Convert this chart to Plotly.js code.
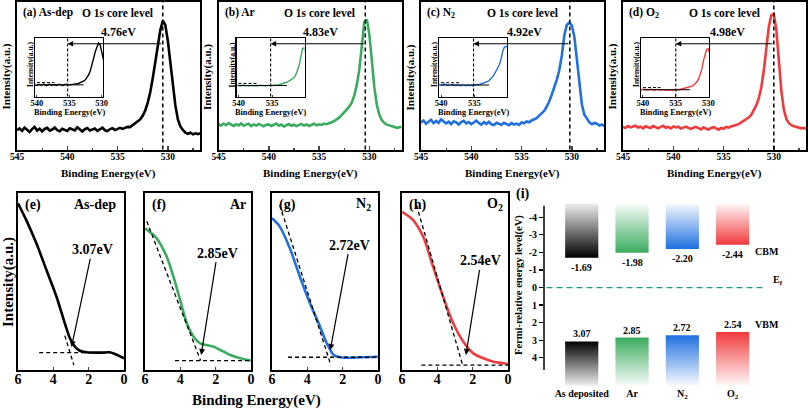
<!DOCTYPE html>
<html><head><meta charset="utf-8">
<script src="https://cdn.plot.ly/plotly-3.0.1.min.js"></script>
<style>html,body{margin:0;padding:0;background:#fff}#chart{width:808px;height:411px}</style>
</head><body><div id="chart"></div>
<script>
// ---------------- DATA ----------------
// O 1s core level spectra (binding energy, eV)
const xsTop = [545,544.75,544.5,544.25,544,543.75,543.5,543.25,543,542.75,542.5,542.25,542,541.75,541.5,541.25,541,540.75,540.5,540.25,540,539.75,539.5,539.25,539,538.75,538.5,538.25,538,537.75,537.5,537.25,537,536.75,536.5,536.25,536,535.75,535.5,535.25,535,534.75,534.5,534.25,534,533.75,533.5,533.25,533,532.75,532.5,532.25,532,531.75,531.5,531.25,531,530.75,530.5,530.25,530,529.75,529.5,529.25,529,528.75,528.5,528.25,528,527.75,527.5,527.25,527,526.75];
const asDepO1s = [13.0,14.2,12.6,14.8,13.4,11.9,13.8,15.2,12.8,14.1,12.3,13.9,14.6,12.7,13.5,14.9,13.1,12.4,14.0,13.2,12.5,14.3,13.6,12.9,15.0,13.3,12.2,13.7,14.5,12.8,13.4,14.2,12.6,13.9,14.7,13.0,12.4,13.8,14.4,13.1,13.7,14.6,13.9,14.8,15.3,15.1,16.4,17.2,18.5,20.3,22.8,26.4,31.5,38.7,48.2,60.1,71.8,80.5,87.0,84.2,73.6,58.9,43.2,29.8,20.4,15.6,13.2,11.4,10.6,11.3,10.2,10.9,10.4,11.0];
const arO1s = [17.2,16.1,17.5,16.4,17.8,16.6,15.9,17.1,16.3,17.6,16.0,16.8,17.4,15.8,16.9,16.2,17.3,16.5,15.7,16.8,17.0,15.9,16.6,17.5,16.1,16.9,15.6,16.4,17.2,16.0,16.7,15.8,16.5,17.3,16.2,16.9,15.9,16.6,17.4,16.3,17.0,16.6,17.5,17.1,18.0,18.4,19.2,20.3,21.5,23.2,24.9,26.8,28.9,31.6,36.4,43.5,53.8,69.5,86.0,87.8,77.8,60.2,41.8,30.1,23.4,19.8,17.9,16.8,16.1,15.6,15.2,14.6,15.0,15.4];
const n2O1s = [18.2,19.6,17.4,18.9,20.1,17.8,19.3,18.0,20.4,19.0,17.6,18.8,17.2,19.1,18.3,16.9,18.5,19.4,17.7,18.6,17.1,18.2,19.5,17.9,16.8,18.4,17.3,18.7,17.0,16.5,18.1,17.4,16.7,18.0,17.2,16.4,17.8,16.9,17.5,16.6,18.3,17.7,18.9,18.4,19.6,20.5,21.2,22.9,24.3,26.1,29.0,32.4,37.0,41.8,47.1,53.5,63.2,77.0,84.1,85.8,83.9,76.2,60.5,43.0,30.4,23.5,20.6,18.3,17.1,17.9,17.4,16.2,16.8,15.9];
const o2O1s = [15.2,14.6,15.8,14.9,15.5,16.1,14.8,15.4,14.3,15.7,15.0,14.5,15.9,15.1,14.4,15.3,16.0,14.7,15.2,14.2,15.6,14.9,15.4,14.1,14.8,15.5,14.6,13.9,14.7,15.3,14.4,13.6,14.9,14.2,13.5,14.6,15.1,14.3,13.4,14.5,14.0,15.2,14.8,15.6,15.9,16.5,17.1,18.2,19.0,20.1,21.6,23.4,26.2,29.8,34.5,41.9,53.0,69.5,83.0,90.8,91.5,81.0,59.2,39.5,26.8,20.6,17.8,16.4,15.7,15.1,14.8,14.3,14.6,14.0];
const peakBE = [530.5, 530.4, 530.2, 530.0];
const shiftEV = [4.76, 4.83, 4.92, 4.98];
const insetBase = [13.5, 16.6, 17.8, 14.8];
const sampleNames = ['As-dep', 'Ar', 'N<sub>2</sub>', 'O<sub>2</sub>'];
const topLetters = ['(a)', '(b)', '(c)', '(d)'];
const topTicks = [545, 540, 535, 530];
const insetTicks = [540, 535, 530];

// Valence band spectra (binding energy 6 -> 0 eV)
const asDepVBx = [6, 5.53, 4.96, 4.39, 3.82, 3.35, 3.06, 2.78, 2.5, 2.12, 1.36, 0.8, 0.42, 0];
const asDepVBy = [0.942, 0.847, 0.716, 0.565, 0.414, 0.264, 0.179, 0.132, 0.109, 0.100, 0.098, 0.100, 0.086, 0.066];
const arVBx = [6, 5.34, 4.77, 4.39, 4.01, 3.63, 3.25, 2.875, 2.5, 2.12, 1.74, 1.17, 0.6, 0];
const arVBy = [0.80, 0.744, 0.64, 0.527, 0.395, 0.264, 0.188, 0.15, 0.141, 0.132, 0.113, 0.085, 0.066, 0.053];
const n2VBx = [6, 5.56, 4.99, 4.42, 3.85, 3.28, 2.9, 2.51, 2.13, 1.56, 0.99, 0];
const n2VBy = [0.857, 0.81, 0.688, 0.527, 0.377, 0.245, 0.151, 0.085, 0.072, 0.069, 0.072, 0.075];
const o2VBx = [6, 5.37, 4.8, 4.24, 3.67, 3.1, 2.53, 1.96, 1.39, 0.82, 0.25, 0];
const o2VBy = [0.894, 0.847, 0.753, 0.584, 0.414, 0.264, 0.16, 0.094, 0.066, 0.047, 0.038, 0.034];
const vbOnset = [3.07, 2.85, 2.72, 2.54];
const tangentX = [[3.35, 2.84], [5.9, 2.85], [5.56, 2.67], [5.18, 2.57]];
const tangentY = [[0.194, 0.028], [0.84, 0.053], [0.932, 0.028], [0.932, 0.028]];
const baseX = [[4.8, 0.8], [4.3, 0], [5.09, 0], [4.9, 0]];
const baseY = [0.098, 0.053, 0.072, 0.028];
const bottomLetters = ['(e)', '(f)', '(g)', '(h)'];
const bottomTicks = [6, 4, 2, 0];

// Band diagram (i)
const bandCats = ['As deposited', 'Ar', 'N<sub>2</sub>', 'O<sub>2</sub>'];
const cbm = [-1.69, -1.98, -2.20, -2.44];
const vbm = [3.07, 2.85, 2.72, 2.54];
const levelTicks = [-4, -3, -2, -1, 0, 1, 2, 3, 4];

// ---------------- STYLE / LAYOUT ----------------
const W = 808, H = 411;
const FONT = 'Liberation Serif, Times New Roman, serif';
const COLORS = ['#000000', '#3aab5f', '#2070e0', '#f03a3c'];
const FADES = ['rgba(0,0,0,0.06)', 'rgba(58,171,95,0.03)', 'rgba(32,112,224,0.03)', 'rgba(240,58,60,0.03)'];
const px = x => x / W, py = y => 1 - y / H;
const f = (size) => ({family: FONT, size: size, color: '#000', weight: 'bold'});
const id = (n, l) => l + (n === 1 ? '' : n);
const key = (n, l) => l + 'axis' + (n === 1 ? '' : n);

const TOP_L = [17, 218.5, 421, 623], TOP_W = 183, TOP_T = 1.5, TOP_B = 149.5, TOP_RANGE = [545, 526.8];
const INS_DX = 18, INS_W = 68, INS_T = 38, INS_B = 96.5;
const INS_RANGE = [[540.3, 529.8], [540.3, 530.2], [540.3, 530.1], [540.3, 529.9]];
const INS_YR = [[-7, 96], [-4, 106], [-2.4, 100.5], [2, 112]];
const BOT_L = [18, 145, 272, 402], BOT_W = 106, BOT_T = 193, BOT_B = 370;
const BAND_L = 544, BAND_R = 790, BAND_T = 203.3, BAND_B = 385.8;

const topData = [asDepO1s, arO1s, n2O1s, o2O1s];
const vbX = [asDepVBx, arVBx, n2VBx, o2VBx];
const vbY = [asDepVBy, arVBy, n2VBy, o2VBy];

const traces = [], annotations = [], shapes = [];
const layout = {
  width: W, height: H, margin: {l: 0, r: 0, t: 0, b: 0},
  paper_bgcolor: '#fff', plot_bgcolor: 'rgba(0,0,0,0)',
  showlegend: false, font: f(11), annotations, shapes
};

function frameAxis(extra) {
  return Object.assign({showline: true, mirror: true, linecolor: '#000', showgrid: false,
    zeroline: false, fixedrange: true}, extra);
}

// top row + insets
for (let i = 0; i < 4; i++) {
  const n = i + 1, m = i + 5;
  const L = TOP_L[i];
  layout[key(n, 'x')] = frameAxis({domain: [px(L), px(L + TOP_W)], range: TOP_RANGE, anchor: id(n, 'y'),
    tickmode: 'array', tickvals: topTicks, ticktext: topTicks.map(String), ticks: 'inside', ticklen: 4, tickwidth: 1.5,
    minor: {tickmode: 'linear', tick0: 530, dtick: 2.5, ticks: 'inside', ticklen: 2, tickwidth: 1.2},
    linewidth: 2, tickfont: f(9.5), ticklabelstandoff: -3});
  layout[key(n, 'y')] = frameAxis({domain: [py(TOP_B), py(TOP_T)], range: [0, 100], anchor: id(n, 'x'),
    showticklabels: false, ticks: '', linewidth: 2});
  traces.push({x: xsTop, y: topData[i], mode: 'lines', line: {color: COLORS[i], width: 2.6},
    xaxis: id(n, 'x'), yaxis: id(n, 'y'), hoverinfo: 'skip'});

  const IL = L + INS_DX;
  layout[key(m, 'x')] = frameAxis({domain: [px(IL), px(IL + INS_W)], range: INS_RANGE[i], anchor: id(m, 'y'),
    tickmode: 'array', tickvals: insetTicks, ticktext: insetTicks.map(String), ticks: 'inside', ticklen: 2, tickwidth: 1,
    linewidth: 1.2, tickfont: f(8.5), ticklabelstandoff: -2});
  layout[key(m, 'y')] = frameAxis({domain: [py(INS_B), py(INS_T)], range: INS_YR[i], anchor: id(m, 'x'),
    showticklabels: false, ticks: '', linewidth: 1.2});
  traces.push({x: xsTop, y: topData[i], mode: 'lines', line: {color: COLORS[i], width: 1.4},
    xaxis: id(m, 'x'), yaxis: id(m, 'y'), hoverinfo: 'skip'});
  // baseline guides in inset
  traces.push({x: [540, 532.8], y: [insetBase[i], insetBase[i]], mode: 'lines', line: {color: '#000', width: 1},
    xaxis: id(m, 'x'), yaxis: id(m, 'y'), hoverinfo: 'skip'});
  traces.push({x: [540, 537.3], y: [insetBase[i] + 4, insetBase[i] + 4], mode: 'lines', line: {color: '#000', width: 1, dash: '3px,2px'},
    xaxis: id(m, 'x'), yaxis: id(m, 'y'), hoverinfo: 'skip'});

  // dashed peak line (main) and onset line (inset)
  shapes.push({type: 'line', xref: id(n, 'x'), yref: id(n, 'y') + ' domain', x0: peakBE[i], x1: peakBE[i], y0: 0, y1: 1,
    line: {color: '#000', width: 1.5, dash: '4px,3px'}});
  shapes.push({type: 'line', xref: id(m, 'x'), yref: id(m, 'y') + ' domain', x0: peakBE[i] + shiftEV[i], x1: peakBE[i] + shiftEV[i], y0: 0, y1: 1,
    line: {color: '#000', width: 1.1, dash: '3px,2px'}});

  // arrow from peak line to inset onset line
  const ir = INS_RANGE[i];
  const headPx = IL + (ir[0] - (peakBE[i] + shiftEV[i])) / (ir[0] - ir[1]) * INS_W;
  const headX = TOP_RANGE[0] - (headPx - L) / TOP_W * (TOP_RANGE[0] - TOP_RANGE[1]);
  annotations.push({xref: id(n, 'x'), yref: id(n, 'y'), x: headX, y: 71.5, ax: peakBE[i], ay: 71.5,
    axref: id(n, 'x'), ayref: id(n, 'y'), text: '', showarrow: true, arrowhead: 2, arrowsize: 1, arrowwidth: 1.1, arrowcolor: '#000'});
  annotations.push({xref: id(n, 'x'), yref: id(n, 'y'), x: (headX + peakBE[i]) / 2 - 0.3, y: 79.5, text: shiftEV[i].toFixed(2) + 'eV',
    showarrow: false, font: f(12), xanchor: 'center', yanchor: 'middle'});

  // titles
  annotations.push({xref: 'paper', yref: 'paper', x: px(L + 4), y: py(13), xanchor: 'left', yanchor: 'middle',
    text: topLetters[i] + ' ' + sampleNames[i], showarrow: false, font: f(11.5)});
  annotations.push({xref: 'paper', yref: 'paper', x: px(L + 101), y: py(13), xanchor: 'center', yanchor: 'middle',
    text: 'O 1s core level', showarrow: false, font: f(11.5)});
  annotations.push({xref: 'paper', yref: 'paper', x: px(L - 11.5), y: py(77), xanchor: 'center', yanchor: 'middle',
    text: 'Intensity(a.u.)', textangle: -90, showarrow: false, font: f(11)});
  annotations.push({xref: 'paper', yref: 'paper', x: px(L + TOP_W / 2), y: py(173), xanchor: 'center', yanchor: 'middle',
    text: 'Binding Energy(eV)', showarrow: false, font: f(11)});
  annotations.push({xref: 'paper', yref: 'paper', x: px(IL + INS_W / 2), y: py(112.5), xanchor: 'center', yanchor: 'middle',
    text: 'Binding Energy(eV)', showarrow: false, font: f(8.3)});
  annotations.push({xref: 'paper', yref: 'paper', x: px(IL - 5), y: py(64), xanchor: 'center', yanchor: 'middle',
    text: 'Intensity(a.u.)', textangle: -90, showarrow: false, font: f(7.5)});
}

// bottom row
for (let i = 0; i < 4; i++) {
  const n = i + 9;
  const L = BOT_L[i];
  layout[key(n, 'x')] = frameAxis({domain: [px(L), px(L + BOT_W)], range: [6, 0], anchor: id(n, 'y'),
    tickmode: 'array', tickvals: bottomTicks, ticktext: bottomTicks.map(String), ticks: 'inside', ticklen: 3, tickwidth: 1.5,
    linewidth: 2, tickfont: f(14), ticklabelstandoff: -5});
  layout[key(n, 'y')] = frameAxis({domain: [py(BOT_B), py(BOT_T)], range: [0, 1], anchor: id(n, 'x'),
    showticklabels: false, ticks: '', linewidth: 2});
  traces.push({x: vbX[i], y: vbY[i], mode: 'lines', line: {color: COLORS[i], width: 2.6, shape: 'spline', smoothing: 0.8},
    xaxis: id(n, 'x'), yaxis: id(n, 'y'), hoverinfo: 'skip'});
  traces.push({x: tangentX[i], y: tangentY[i], mode: 'lines', line: {color: '#000', width: 1.3, dash: '4px,3px'},
    xaxis: id(n, 'x'), yaxis: id(n, 'y'), hoverinfo: 'skip'});
  traces.push({x: baseX[i], y: [baseY[i], baseY[i]], mode: 'lines', line: {color: '#000', width: 1.3, dash: '4px,3px'},
    xaxis: id(n, 'x'), yaxis: id(n, 'y'), hoverinfo: 'skip'});
}
const arrowHead = [[2.97, 0.13], [2.82, 0.085], [2.70, 0.113], [2.38, 0.085]];
const labelAt = [[1.8, 0.68], [1.9, 0.66], [1.6, 0.706], [1.53, 0.617]];
const bottomNameX = [118, 248, 373, 505];
for (let i = 0; i < 4; i++) {
  const n = i + 9;
  annotations.push({xref: id(n, 'x'), yref: id(n, 'y'), x: arrowHead[i][0], y: arrowHead[i][1],
    ax: labelAt[i][0], ay: labelAt[i][1], axref: id(n, 'x'), ayref: id(n, 'y'),
    text: vbOnset[i].toFixed(2) + 'eV', showarrow: true, arrowhead: 2, arrowsize: 1, arrowwidth: 1.2, arrowcolor: '#000',
    font: f(14)});
  annotations.push({xref: 'paper', yref: 'paper', x: px(BOT_L[i] + 5), y: py(205), xanchor: 'left', yanchor: 'middle',
    text: bottomLetters[i], showarrow: false, font: f(14)});
  annotations.push({xref: 'paper', yref: 'paper', x: px(bottomNameX[i]), y: py(205), xanchor: 'right', yanchor: 'middle',
    text: sampleNames[i], showarrow: false, font: f(14)});
}
annotations.push({xref: 'paper', yref: 'paper', x: px(256), y: py(400), xanchor: 'center', yanchor: 'middle',
  text: 'Binding Energy(eV)', showarrow: false, font: f(15)});
annotations.push({xref: 'paper', yref: 'paper', x: px(8), y: py(282), xanchor: 'center', yanchor: 'middle',
  text: 'Intensity(a.u.)', textangle: -90, showarrow: false, font: f(15)});

// band diagram (i)
const BW = 0.33, CB_TOP = -4.8, VB_BOT = 5.6;
layout.xaxis13 = {domain: [px(BAND_L), px(BAND_R)], range: [-0.75, 4.14], anchor: 'y13', showline: false, zeroline: false,
  showgrid: false, tickmode: 'array', tickvals: bandCats.map((c, i) => i), ticktext: bandCats, ticks: '', tickfont: f(10), fixedrange: true};
layout.yaxis13 = {domain: [py(BAND_B), py(BAND_T)], range: [VB_BOT, CB_TOP], anchor: 'x13', showline: false, zeroline: false,
  showgrid: false, tickmode: 'array', tickvals: levelTicks, ticktext: levelTicks.map(String), ticks: 'outside', ticklen: 4,
  tickwidth: 1.2, tickcolor: '#000', tickfont: f(10), fixedrange: true};
shapes.push({type: 'line', xref: 'paper', yref: 'y13', x0: px(BAND_L), x1: px(BAND_L), y0: -4.66, y1: 4.7, line: {color: '#000', width: 1.5}});
shapes.push({type: 'line', xref: 'x13', yref: 'y13', x0: -0.7, x1: 3.64, y0: 0, y1: 0, line: {color: '#1f9a8c', width: 1.3, dash: '6px,4px'}});
bandCats.forEach((c, i) => {
  const x0 = i - BW, x1 = i + BW;
  traces.push({x: [x0, x1, x1, x0, x0], y: [cbm[i], cbm[i], CB_TOP, CB_TOP, cbm[i]], mode: 'lines', fill: 'toself',
    fillcolor: COLORS[i], fillgradient: {type: 'vertical', start: cbm[i], stop: CB_TOP, colorscale: [[0, COLORS[i]], [1, FADES[i]]]},
    line: {width: 0, color: 'rgba(0,0,0,0)'}, xaxis: 'x13', yaxis: 'y13', hoverinfo: 'skip'});
  traces.push({x: [x0, x1, x1, x0, x0], y: [vbm[i], vbm[i], VB_BOT, VB_BOT, vbm[i]], mode: 'lines', fill: 'toself',
    fillcolor: COLORS[i], fillgradient: {type: 'vertical', start: vbm[i], stop: VB_BOT, colorscale: [[0, COLORS[i]], [1, FADES[i]]]},
    line: {width: 0, color: 'rgba(0,0,0,0)'}, xaxis: 'x13', yaxis: 'y13', hoverinfo: 'skip'});
  annotations.push({xref: 'x13', yref: 'y13', x: i, y: cbm[i], yanchor: 'top', yshift: -2, text: cbm[i].toFixed(2),
    showarrow: false, font: f(10)});
  annotations.push({xref: 'x13', yref: 'y13', x: i, y: vbm[i], yanchor: 'bottom', yshift: 0, text: vbm[i].toFixed(2),
    showarrow: false, font: f(10)});
});
annotations.push({xref: 'paper', yref: 'paper', x: px(781), y: py(251), text: 'CBM', showarrow: false, font: f(10)});
annotations.push({xref: 'paper', yref: 'paper', x: px(781), y: py(332), text: 'VBM', showarrow: false, font: f(10)});
annotations.push({xref: 'paper', yref: 'paper', x: px(771), y: py(289), xanchor: 'left', text: 'E<sub>f</sub>', showarrow: false, font: f(10)});
annotations.push({xref: 'paper', yref: 'paper', x: px(523), y: py(194), text: '(i)', showarrow: false, font: f(14)});
annotations.push({xref: 'paper', yref: 'paper', x: px(519), y: py(285), xanchor: 'center', yanchor: 'middle', textangle: -90,
  text: 'Fermi-relative energy level(eV)', showarrow: false, font: f(10.5)});

Plotly.newPlot('chart', traces, layout, {displayModeBar: false, staticPlot: true});
</script>
</body></html>
